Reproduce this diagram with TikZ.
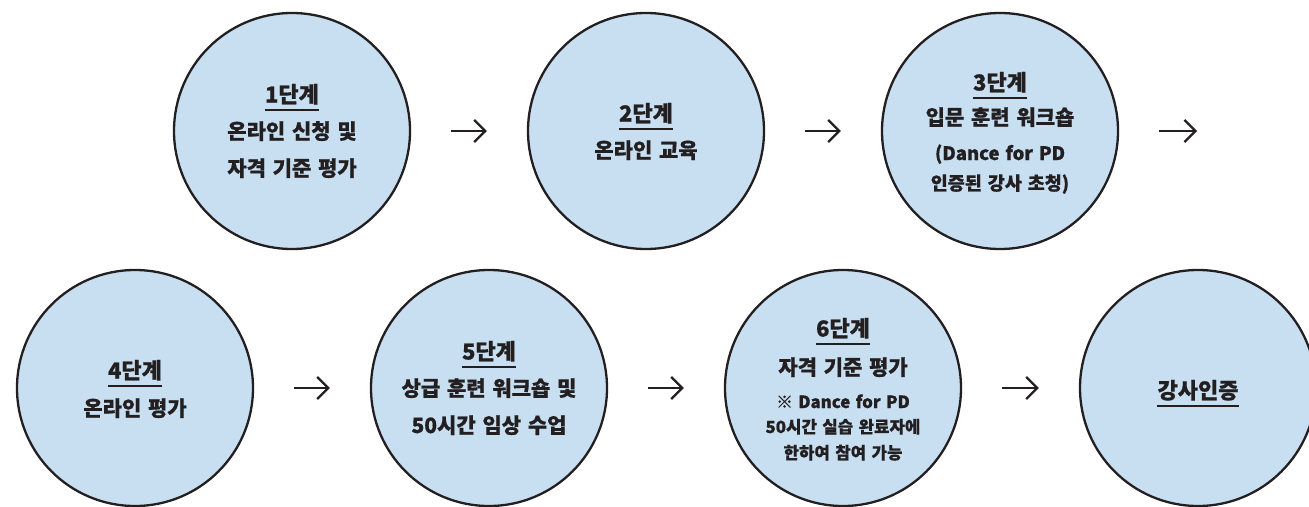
\documentclass[tikz,border=0pt]{standalone}
\usepackage{fontspec}
\usetikzlibrary{arrows.meta,calc}
\newfontfamily\kr{Noto Sans CJK KR}[WordSpace=1.4,BoldFeatures={FakeBold=0.6}]
\definecolor{cfill}{HTML}{C8DFF2}
\definecolor{ink}{HTML}{231F20}
\begin{document}
\begin{tikzpicture}[x=1pt,y=-1pt,
  stage/.style={circle,draw=ink,fill=cfill,line width=2.3pt,minimum size=236pt,inner sep=0pt},
  ttl/.style={anchor=base,inner sep=0pt,text=ink,font=\kr\bfseries\fontsize{22}{22}\selectfont},
  body/.style={anchor=base,inner sep=0pt,text=ink,font=\kr\bfseries\fontsize{21}{21}\selectfont},
  note/.style={anchor=base,inner sep=0pt,text=ink,font=\kr\bfseries\fontsize{18.5}{18.5}\selectfont},
  small/.style={anchor=base,inner sep=0pt,text=ink,font=\kr\bfseries\fontsize{16.8}{16.8}\selectfont},
  uline/.style={draw=ink,line width=2.3pt},
  arr/.style={draw=ink,line width=2.3pt,shorten <=40pt,shorten >=40pt,-{Straight Barb[length=11pt,width=22pt]}}
]
\useasboundingbox (0,0) rectangle (1309,506);
% circles
\node[stage] (c1) at (292,131) {};
\node[stage] (c2) at (646,131) {};
\node[stage] (c3) at (1000,131) {};
\node[stage] (c4) at (135,388) {};
\node[stage] (c5) at (489,388) {};
\node[stage] (c6) at (843,388) {};
\node[stage] (c7) at (1198,388) {};
\coordinate (e3) at (1197,131);
% arrows
\draw[arr] (c1) -- (c2);
\draw[arr] (c2) -- (c3);
\draw[arr,shorten >=0pt] (c3) -- (e3);
\draw[arr] (c4) -- (c5);
\draw[arr] (c5) -- (c6);
\draw[arr] (c6) -- (c7);
% circle 1
\node[ttl] (t1) at (292,102.5) {1단계};
\node[body] (b1a) at (292,139) {온라인 신청 및};
\node[body] (b1b) at (292,176) {자격 기준 평가};
% circle 2
\node[ttl] (t2) at (646,121.5) {2단계};
\node[body] (b2a) at (646,158) {온라인 교육};
% circle 3
\node[ttl] (t3) at (1000,90.5) {3단계};
\node[body] (b3a) at (1000,125) {입문 훈련 워크숍};
\node[note] (b3b) at (1000,160) {(Dance for PD};
\node[note] (b3c) at (1000,190) {인증된 강사 초청)};
% circle 4
\node[ttl] (t4) at (135,378.5) {4단계};
\node[body] (b4a) at (135,416) {온라인 평가};
% circle 5
\node[ttl] (t5) at (489,359.5) {5단계};
\node[body] (b5a) at (489,396) {상급 훈련 워크숍 및};
\node[body] (b5b) at (489,433) {50시간 임상 수업};
% circle 6
\node[ttl] (t6) at (843,336.5) {6단계};
\node[body] (b6a) at (843,375) {자격 기준 평가};
\node[small] (b6b) at (843,408) {※ Dance for PD};
\node[small] (b6c) at (843,433) {50시간 실습 완료자에};
\node[small] (b6d) at (843,459) {한하여 참여 가능};
% circle 7
\node[ttl] (t7) at (1198,398.5) {강사인증};
% underlines
\foreach \t in {t1,t2,t3,t4,t5,t6,t7}
  \draw[uline] ($(\t.base west)+(0,7.5)$) -- ($(\t.base east)+(0,7.5)$);
\end{tikzpicture}
\end{document}
